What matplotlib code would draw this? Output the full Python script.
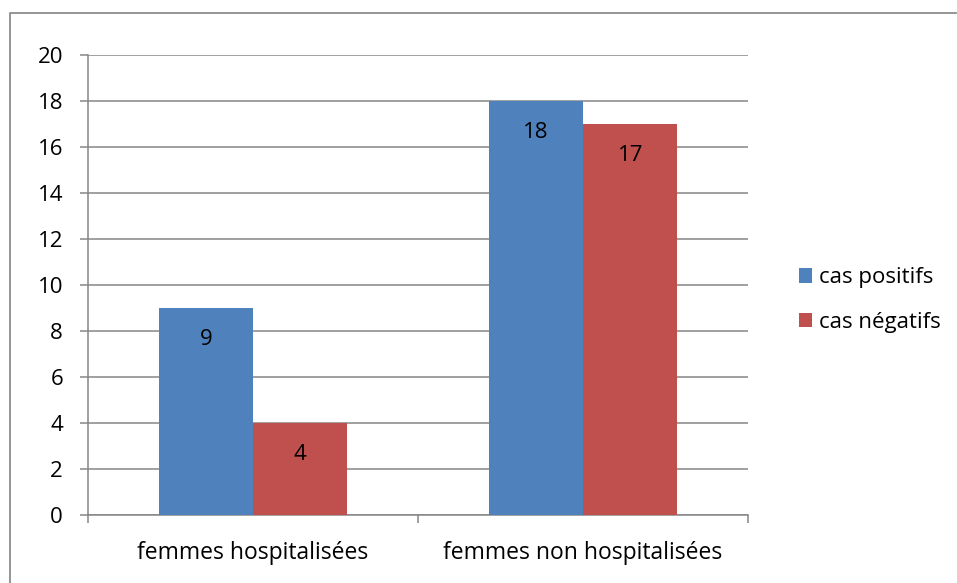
import numpy as np
import matplotlib.pyplot as plt
from matplotlib.patches import Patch
from matplotlib.lines import Line2D

categories = ['femmes hospitalisées', 'femmes non hospitalisées']
positifs = [9, 18]
negatifs = [4, 17]
series_names = ['cas positifs', 'cas négatifs']

plt.rcParams['font.family'] = ['Open Sans', 'DejaVu Sans']

blue = '#4F81BD'
red = '#C0504D'
grid_col = '#868686'

fig = plt.figure(figsize=(9.57, 5.83), dpi=100)
# outer frame: only top and left edges visible in the picture
fig.lines.append(Line2D([9.5/957, 9.5/957, 956/957], [0, 1-13/583, 1-13/583],
                        transform=fig.transFigure, color='#8c8c8c', linewidth=1.3))

ax = fig.add_axes([88/957, 1-515/583, 660/957, 460/583])

x = np.arange(len(categories))
w = 0.286
b1 = ax.bar(x - w/2, positifs, w, color=blue, zorder=3)
b2 = ax.bar(x + w/2, negatifs, w, color=red, zorder=3)

for bars in (b1, b2):
    for rect in bars:
        ax.annotate(f'{int(rect.get_height())}', (rect.get_x() + rect.get_width()/2, rect.get_height()),
                    xytext=(0, -22.5), textcoords='offset points', ha='center', va='center',
                    fontsize=16, color='black', zorder=4)

ax.set_xlim(-0.5, 1.5)
ax.set_ylim(0, 20)
ax.set_yticks(range(0, 21, 2))
ax.yaxis.grid(True, color=grid_col, linewidth=1.1, zorder=0)
ax.set_xticks(x)
ax.set_xticklabels(categories, fontsize=16.5)
ax.set_xticks([-0.5, 0.5, 1.5], minor=True)
ax.tick_params(axis='x', which='major', length=0, pad=19)
ax.tick_params(axis='x', which='minor', length=6, width=1.1, color=grid_col, direction='out')
ax.tick_params(axis='y', length=6, width=1.1, color=grid_col, labelsize=16, pad=12)
for s in ['top', 'right']:
    ax.spines[s].set_visible(False)
for s in ['left', 'bottom']:
    ax.spines[s].set_color(grid_col)
    ax.spines[s].set_linewidth(1.1)

handles = [Patch(facecolor=blue), Patch(facecolor=red)]
fig.legend(handles, series_names, loc='center left', bbox_to_anchor=(788/957, 1-300/583),
           frameon=False, fontsize=16, handlelength=0.6, handleheight=0.6,
           handletextpad=0.3, labelspacing=1.05, borderpad=0)

fig.savefig('out.png', dpi=100)
